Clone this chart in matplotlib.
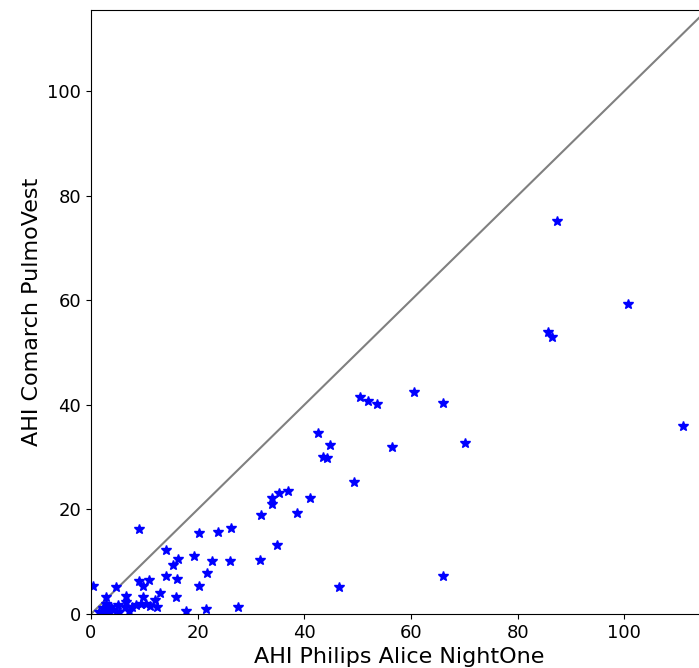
import matplotlib
matplotlib.use("Agg")
import matplotlib.pyplot as plt

ahi_alice = [0.3, 9.0, 14.1, 20.2, 23.9, 26.2, 31.9, 34.0, 34.0, 34.9, 31.7, 26.0, 22.6,
             19.3, 16.4, 15.3, 14.1, 16.1, 21.7, 20.2, 15.9, 27.6, 17.9, 21.5, 9.0, 9.8,
             10.9, 12.9, 12.0, 12.4, 11.1, 9.7, 4.7, 6.5, 2.8, 6.5, 8.5, 9.4, 5.0, 2.8,
             3.7, 2.2, 1.5, 3.4, 5.3, 7.2, 4.2, 2.6, 3.0, 7.6, 10.4, 6.4,
             50.4, 51.9, 53.7, 60.6, 66.0, 70.1, 56.4, 42.6, 44.8, 43.5, 44.2, 49.4,
             41.0, 38.7, 36.9, 35.3, 46.5, 66.0, 87.3, 100.6, 85.7, 86.5, 111.0]
ahi_pulmovest = [5.3, 16.2, 12.2, 15.4, 15.7, 16.5, 18.9, 22.1, 21.0, 13.1, 10.4, 10.1, 10.1,
                 11.1, 10.6, 9.4, 7.3, 6.6, 7.8, 5.3, 3.2, 1.4, 0.6, 0.9, 6.3, 5.4,
                 6.5, 4.1, 2.7, 1.4, 1.5, 3.3, 5.1, 3.5, 3.3, 2.3, 1.7, 2.0, 1.7, 2.0,
                 1.4, 1.1, 0.4, 0.4, 0.4, 0.5, 0.8, 0.2, 1.0, 1.4, 1.9, 1.4,
                 41.5, 40.7, 40.1, 42.5, 40.4, 32.7, 31.9, 34.6, 32.4, 30.1, 29.9, 25.2,
                 22.1, 19.4, 23.6, 23.1, 5.1, 7.2, 75.1, 59.3, 54.0, 52.9, 35.9]

lim = 115.5
identity = [0, lim]

fig = plt.figure(figsize=(6.99, 6.68), dpi=100)
ax = fig.add_axes([91/699, 54/668, 616/699, 604/668])
ax.plot(identity, identity, color='grey', linewidth=1.5)
ax.plot(ahi_alice, ahi_pulmovest, 'b*', markersize=7, linestyle='none')
ax.set_xlim(0, lim)
ax.set_ylim(0, lim)
ax.set_xticks([0, 20, 40, 60, 80, 100])
ax.set_yticks([0, 20, 40, 60, 80, 100])
ax.tick_params(labelsize=13)
ax.set_xlabel('AHI Philips Alice NightOne', fontsize=16, labelpad=4)
ax.set_ylabel('AHI Comarch PulmoVest', fontsize=16)
fig.savefig('out.png', dpi=100)
